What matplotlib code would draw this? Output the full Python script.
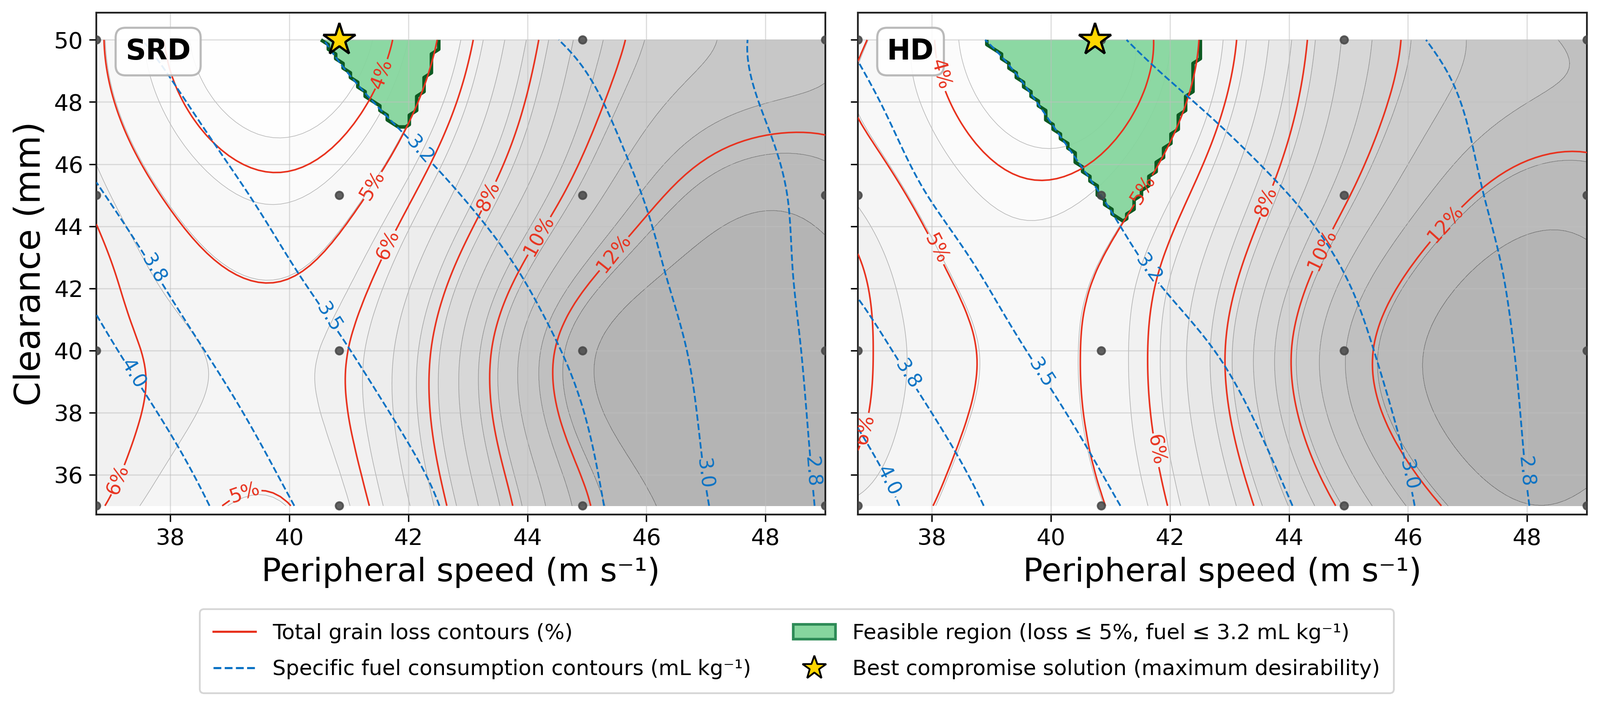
import numpy as np
import matplotlib
matplotlib.use('Agg')
import matplotlib.pyplot as plt
from matplotlib.lines import Line2D
from matplotlib.patches import Patch
from matplotlib.ticker import MultipleLocator

# ---------------- data ----------------
# experimental design (4 x 4 factorial): peripheral speed (m/s) x clearance (mm)
speed_levels = [36.757, 40.841, 44.925, 49.009]
clearance_levels = [35.0, 40.0, 45.0, 50.0]

# response-surface grid (rows: clearance nodes, cols: speed nodes)
speed_nodes = [36.757, 38.799, 40.841, 42.883, 44.925, 46.967, 49.009]
clear_nodes = [35.0, 37.5, 40.0, 42.5, 45.0, 47.5, 50.0]

srd_loss = [
    [6.09, 5.02, 5.47, 8.42, 11.83, 13.20, 12.90],
    [6.23, 5.46, 5.82, 8.91, 12.44, 13.50, 13.35],
    [6.14, 5.56, 5.87, 8.96, 12.66, 13.55, 13.40],
    [6.18, 5.08, 5.37, 8.27, 11.69, 13.20, 13.15],
    [5.83, 4.44, 4.60, 7.21, 10.47, 12.45, 12.60],
    [5.37, 3.75, 3.76, 6.27, 9.65, 11.45, 11.84],
    [5.14, 3.34, 3.23, 5.64, 9.17, 10.85, 11.54],
]
srd_fuel = [
    [4.27, 3.98, 3.70, 3.46, 3.24, 3.01, 2.78],
    [4.16, 3.88, 3.61, 3.40, 3.21, 2.99, 2.77],
    [4.05, 3.77, 3.52, 3.33, 3.17, 2.97, 2.76],
    [3.94, 3.66, 3.43, 3.27, 3.12, 2.94, 2.75],
    [3.82, 3.56, 3.35, 3.20, 3.07, 2.92, 2.74],
    [3.70, 3.46, 3.26, 3.13, 3.03, 2.88, 2.73],
    [3.57, 3.37, 3.18, 3.07, 2.98, 2.85, 2.72],
]
hd_loss = [
    [5.50, 4.73, 4.95, 7.23, 10.19, 12.30, 12.55],
    [6.09, 4.90, 5.16, 7.72, 11.10, 12.95, 13.20],
    [6.17, 4.98, 5.21, 7.92, 11.40, 13.10, 13.35],
    [6.10, 4.77, 5.06, 7.53, 10.80, 12.70, 12.95],
    [5.53, 4.34, 4.45, 6.80, 9.86, 11.91, 12.40],
    [5.00, 3.79, 3.61, 6.05, 9.22, 11.13, 11.70],
    [5.14, 3.46, 3.25, 5.61, 8.92, 10.79, 11.60],
]
hd_fuel = [
    [4.10, 3.81, 3.54, 3.31, 3.12, 2.91, 2.71],
    [4.00, 3.71, 3.45, 3.25, 3.08, 2.89, 2.70],
    [3.88, 3.60, 3.36, 3.19, 3.04, 2.87, 2.70],
    [3.76, 3.50, 3.27, 3.12, 3.00, 2.85, 2.69],
    [3.64, 3.40, 3.20, 3.06, 2.95, 2.82, 2.70],
    [3.56, 3.32, 3.12, 2.99, 2.89, 2.80, 2.70],
    [3.47, 3.21, 3.03, 2.91, 2.84, 2.78, 2.71],
]

best_speed = [40.84, 40.74]
best_clearance = [50.0, 50.0]
panel_names = ['SRD', 'HD']
loss_levels = [4, 5, 6, 8, 10, 12]
fuel_levels = [2.8, 3.0, 3.2, 3.5, 3.8, 4.0]
loss_limit = 5.0
fuel_limit = 3.2
loss_label_pos = [
    [(41.6, 48.87), (41.43, 45.28), (41.66, 43.4), (43.34, 44.98), (44.19, 43.7), (45.4, 43.2), (37.16, 35.81), (39.21, 35.64)],
    [(38.13, 48.87), (37.95, 43.15), (41.57, 45.15), (41.8, 36.8), (36.87, 37.46), (43.63, 44.79), (44.6, 43.2), (46.6, 44.12)],
]
fuel_label_pos = [
    [(37.74, 42.65), (40.61, 41.0), (37.43, 39.3), (42.15, 46.38), (47.03, 36.05), (48.82, 36.1)],
    [(41.62, 42.6), (39.81, 39.23), (37.59, 39.23), (37.27, 35.8), (46.05, 36.0), (48.04, 36.1)],
]

RED = '#e8321e'
BLUE = '#0a72c4'
GREEN = '#86d69e'
GREEN_EDGE = '#0d5a22'


# ---------------- smooth surface through the grid (not-a-knot cubic splines) ----------------
def spline_basis(nodes, t):
    nodes = np.asarray(nodes, float)
    t = np.atleast_1d(np.asarray(t, float))
    n = nodes.size
    h = np.diff(nodes)
    A = np.zeros((n, n))
    A[0, 0], A[0, 1], A[0, 2] = h[1], -(h[0] + h[1]), h[0]
    A[-1, -3], A[-1, -2], A[-1, -1] = h[-1], -(h[-2] + h[-1]), h[-2]
    for i in range(1, n - 1):
        A[i, i - 1], A[i, i], A[i, i + 1] = h[i - 1], 2 * (h[i - 1] + h[i]), h[i]
    idx = np.clip(np.searchsorted(nodes, t) - 1, 0, n - 2)
    x0, x1 = nodes[idx], nodes[idx + 1]
    hh = x1 - x0
    a = (x1 - t) / hh
    b = (t - x0) / hh
    B = np.zeros((t.size, n))
    for k in range(n):
        y = np.zeros(n)
        y[k] = 1.0
        r = np.zeros(n)
        for i in range(1, n - 1):
            r[i] = 6 * ((y[i + 1] - y[i]) / h[i] - (y[i] - y[i - 1]) / h[i - 1])
        M = np.linalg.solve(A, r)
        B[:, k] = a * y[idx] + b * y[idx + 1] + ((a ** 3 - a) * M[idx] + (b ** 3 - b) * M[idx + 1]) * hh ** 2 / 6
    return B


def surface(vals, xg, yg):
    return spline_basis(clear_nodes, yg) @ np.asarray(vals, float) @ spline_basis(speed_nodes, xg).T


# ---------------- figure ----------------
plt.rcParams['font.family'] = ['DejaVu Sans']
fig = plt.figure(figsize=(3788 / 300, 1676 / 300), dpi=300)
axL = fig.add_axes([0.0602, 0.2733, 0.4557, 0.709])
axR = fig.add_axes([0.5362, 0.2733, 0.4557, 0.709], sharey=axL)

xg = np.linspace(speed_levels[0], speed_levels[-1], 100)
yg = np.linspace(clearance_levels[0], clearance_levels[-1], 100)
Xg, Yg = np.meshgrid(xg, yg)

for k, (ax, lv, fv) in enumerate(zip([axL, axR], [srd_loss, hd_loss], [srd_fuel, hd_fuel])):
    L = surface(lv, xg, yg)
    F = surface(fv, xg, yg)
    glev = np.linspace(L.min(), L.max(), 17)
    ax.contourf(Xg, Yg, L, levels=glev, cmap='Greys', alpha=0.3, zorder=0)
    ax.contour(Xg, Yg, L, levels=glev, colors='0.4', linewidths=0.35, alpha=0.45, zorder=0.5)
    feas = ((L <= loss_limit) & (F <= fuel_limit)).astype(float)
    ax.contourf(Xg, Yg, feas, levels=[0.5, 1.5], colors=[GREEN], alpha=0.95, zorder=1)
    ax.contour(Xg, Yg, feas, levels=[0.5], colors=[GREEN_EDGE], linewidths=2.0, zorder=2)
    cl = ax.contour(Xg, Yg, L, levels=loss_levels, colors=RED, linewidths=0.9, zorder=3)
    t1 = ax.clabel(cl, fmt=lambda v: f'{v:.0f}%', fontsize=11, manual=loss_label_pos[k], inline_spacing=4)
    cfu = ax.contour(Xg, Yg, F, levels=fuel_levels, colors=BLUE, linewidths=1.0, linestyles='--', zorder=3)
    t2 = ax.clabel(cfu, fmt='%.1f', fontsize=11, manual=fuel_label_pos[k], inline_spacing=4)
    for t in list(t1) + list(t2):
        t.set_zorder(8)
    dx, dy = np.meshgrid(speed_levels, clearance_levels)
    ax.scatter(dx.ravel(), dy.ravel(), s=18, color='0.28', alpha=0.85, zorder=4)
    ax.plot(best_speed[k], best_clearance[k], marker='*', ms=19, mfc='#FFD700', mec='black', mew=1.3,
            ls='none', zorder=6, clip_on=False)
    ax.text(0.04, 0.95, panel_names[k], transform=ax.transAxes, fontsize=16, fontweight='bold',
            va='top', ha='left', zorder=7,
            bbox=dict(boxstyle='round,pad=0.35', fc='white', ec='0.7', lw=1.2, alpha=0.9))
    ax.set_xlim(speed_levels[0], speed_levels[-1])
    ax.set_ylim(34.72, 50.88)
    ax.xaxis.set_major_locator(MultipleLocator(2))
    ax.yaxis.set_major_locator(MultipleLocator(2))
    ax.grid(True, color='0.75', linewidth=0.7, alpha=0.5)
    ax.tick_params(labelsize=13, length=4)
    for s in ax.spines.values():
        s.set_linewidth(1.0)
        s.set_color('#222222')
    ax.set_xlabel('Peripheral speed (m s⁻¹)', fontsize=18.5)

axL.set_ylabel('Clearance (mm)', fontsize=20)
axR.tick_params(labelleft=False)

handles = [Line2D([], [], color=RED, lw=1.2),
           Line2D([], [], color=BLUE, lw=1.2, ls='--'),
           Patch(fc=GREEN, ec='#2e8b57', lw=1.5),
           Line2D([], [], marker='*', ls='none', ms=14, mfc='#FFD700', mec='black', mew=1.0)]
labels = ['Total grain loss contours (%)', 'Specific fuel consumption contours (mL kg⁻¹)',
          'Feasible region (loss ≤ 5%, fuel ≤ 3.2 mL kg⁻¹)', 'Best compromise solution (maximum desirability)']
fig.legend(handles, labels, loc='lower center', bbox_to_anchor=(0.498, 0.006), ncol=2, fontsize=12,
           frameon=True, labelspacing=0.75, borderpad=0.65)

fig.savefig('out.png', dpi=300)
